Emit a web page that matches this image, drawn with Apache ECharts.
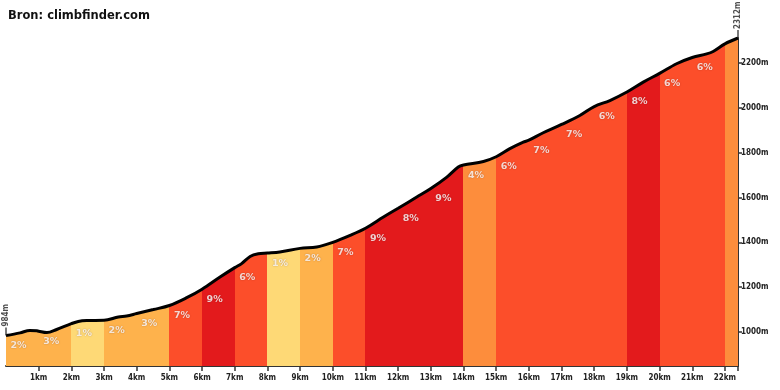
<!DOCTYPE html>
<html>
<head>
<meta charset="utf-8">
<script src="https://cdn.jsdelivr.net/npm/echarts@6/dist/echarts.min.js"></script>
<style>
html,body{margin:0;padding:0;background:#fff;}
#chart{width:780px;height:390px;}
</style>
</head>
<body>
<div id="chart"></div>
<script>
// Elevation profile (km, m)
const distKm = [0, 0.43, 0.73, 0.94, 1, 1.25, 1.55, 2, 2.21, 2.47, 3, 3.44, 3.69, 4, 4.51, 5, 5.53, 6, 6.55, 7, 7.21, 7.47, 7.72, 8, 8.38, 9, 9.51, 10, 10.53, 11, 11.55, 12, 12.57, 13, 13.49, 13.84, 14, 14.61, 15, 15.42, 15.83, 16, 16.44, 17, 17.56, 18, 18.48, 19, 19.5, 20, 20.52, 21, 21.44, 21.64, 22, 22.4];
const elevM  = [984, 996, 1007, 1005, 1003, 997, 1011, 1037, 1047, 1051, 1052, 1067, 1071, 1082, 1100, 1118, 1153, 1191, 1245, 1287, 1305, 1337, 1349, 1352, 1357, 1373, 1379, 1400, 1431, 1463, 1513, 1552, 1602, 1640, 1691, 1736, 1745, 1761, 1782, 1818, 1847, 1856, 1889, 1926, 1966, 2006, 2033, 2071, 2115, 2154, 2197, 2225, 2241, 2252, 2286, 2312];

// Segments (start km, end km, gradient %)
const segStart = [0,1,2,3,4,5,6,7,8,9,10,11,12,13,14,15,16,17,18,19,20,21,22];
const segEnd   = [1,2,3,4,5,6,7,8,9,10,11,12,13,14,15,16,17,18,19,20,21,22,22.4];
const segGrade = [2,3,1,2,3,7,9,6,1,2,7,9,8,9,4,6,7,7,6,8,6,6,4];

// Axis ticks
const xTicks = [1,2,3,4,5,6,7,8,9,10,11,12,13,14,15,16,17,18,19,20,21,22];
const xTickMarks = [1,2,3,4,5,6,7,8,9,10,11,12,13,14,15,16,17,18,19,20,21,22,22.4];
const yTicks = [1000,1200,1400,1600,1800,2000,2200];
const yMin = 848;
const yMax = 2312;
const titleText = 'Bron: climbfinder.com';

function gradeColor(g){
  if (g <= 1) return '#fed976';
  if (g <= 3) return '#feb24c';
  if (g <= 5) return '#fd8d3c';
  if (g <= 7) return '#fc4e2a';
  if (g <= 9) return '#e31a1c';
  return '#bd0026';
}

const FONT = '"DejaVu Sans Condensed", "DejaVu Sans", sans-serif';

const profile = distKm.map((d,i)=>[d, elevM[i]]);
const pieces = segStart.map((s,i)=>({gte: s, lt: (i === segStart.length-1 ? segEnd[i] + 0.001 : segEnd[i]), color: gradeColor(segGrade[i])}));

const labelData = [];
segStart.forEach((s,i)=>{
  if (segEnd[i] - s < 1) return;
  const idx = distKm.indexOf(s);
  labelData.push({value:[s, elevM[idx]], grade: segGrade[i]});
});

const endData = [
  {value:[distKm[0], elevM[0]], name: elevM[0] + 'm'},
  {value:[distKm[distKm.length-1], elevM[elevM.length-1]], name: elevM[elevM.length-1] + 'm'}
];

const chart = echarts.init(document.getElementById('chart'), null, {renderer:'canvas'});
chart.setOption({
  animation: false,
  backgroundColor: '#fff',
  title: {
    text: titleText, left: 3, top: 5,
    textStyle: {fontFamily: '"DejaVu Sans", sans-serif', fontWeight: 'bold', fontSize: 11.5, color: '#111'}
  },
  grid: {left: 6, right: 42, top: 38, bottom: 24},
  xAxis: {
    type: 'value', min: 0, max: distKm[distKm.length-1],
    splitLine: {show: false},
    axisLine: {show: true, onZero: false, lineStyle: {color: '#333', width: 2}},
    axisTick: {show: true, length: 5, lineStyle: {color: '#333', width: 1.5}, customValues: xTickMarks},
    axisLabel: {
      customValues: xTicks, margin: 8,
      formatter: v => v + 'km',
      fontFamily: FONT, fontWeight: 'bold', fontSize: 8, color: '#222'
    }
  },
  yAxis: {
    type: 'value', position: 'right', min: yMin, max: yMax,
    splitLine: {show: false},
    axisLine: {show: true, onZero: false, lineStyle: {color: '#333', width: 2}},
    axisTick: {show: true, length: 4, lineStyle: {color: '#333', width: 1.5}, customValues: yTicks},
    axisLabel: {
      customValues: yTicks, margin: 3,
      formatter: v => v + 'm',
      fontFamily: FONT, fontWeight: 'bold', fontSize: 8, color: '#222'
    }
  },
  visualMap: {
    show: false, type: 'piecewise', dimension: 0, seriesIndex: 0,
    pieces: pieces
  },
  series: [
    {
      type: 'line', data: profile, smooth: 0.35, showSymbol: false,
      lineStyle: {color: '#000', width: 3},
      areaStyle: {opacity: 1, origin: 'start'},
      z: 2
    },
    {
      type: 'scatter', data: labelData, symbolSize: 1,
      itemStyle: {color: 'rgba(0,0,0,0)'},
      label: {
        show: true, position: 'right', distance: 0, offset: [4, 10],
        formatter: p => p.data.grade + '%',
        fontFamily: '"DejaVu Sans", sans-serif', fontWeight: 'bold', fontSize: 9.5, color: '#fff',
        textShadowColor: 'rgba(60,0,0,0.45)', textShadowBlur: 1.5
      },
      z: 3
    },
    {
      type: 'scatter', data: endData, symbol: 'rect', symbolSize: [1.5, 8], symbolOffset: [0, -4],
      itemStyle: {color: '#222'},
      clip: false,
      label: {
        show: true, position: 'top', distance: 1, rotate: 90,
        align: 'left', verticalAlign: 'middle',
        formatter: p => p.name,
        fontFamily: FONT, fontWeight: 'bold', fontSize: 8, color: '#222'
      },
      z: 4
    }
  ]
});
</script>
</body>
</html>
